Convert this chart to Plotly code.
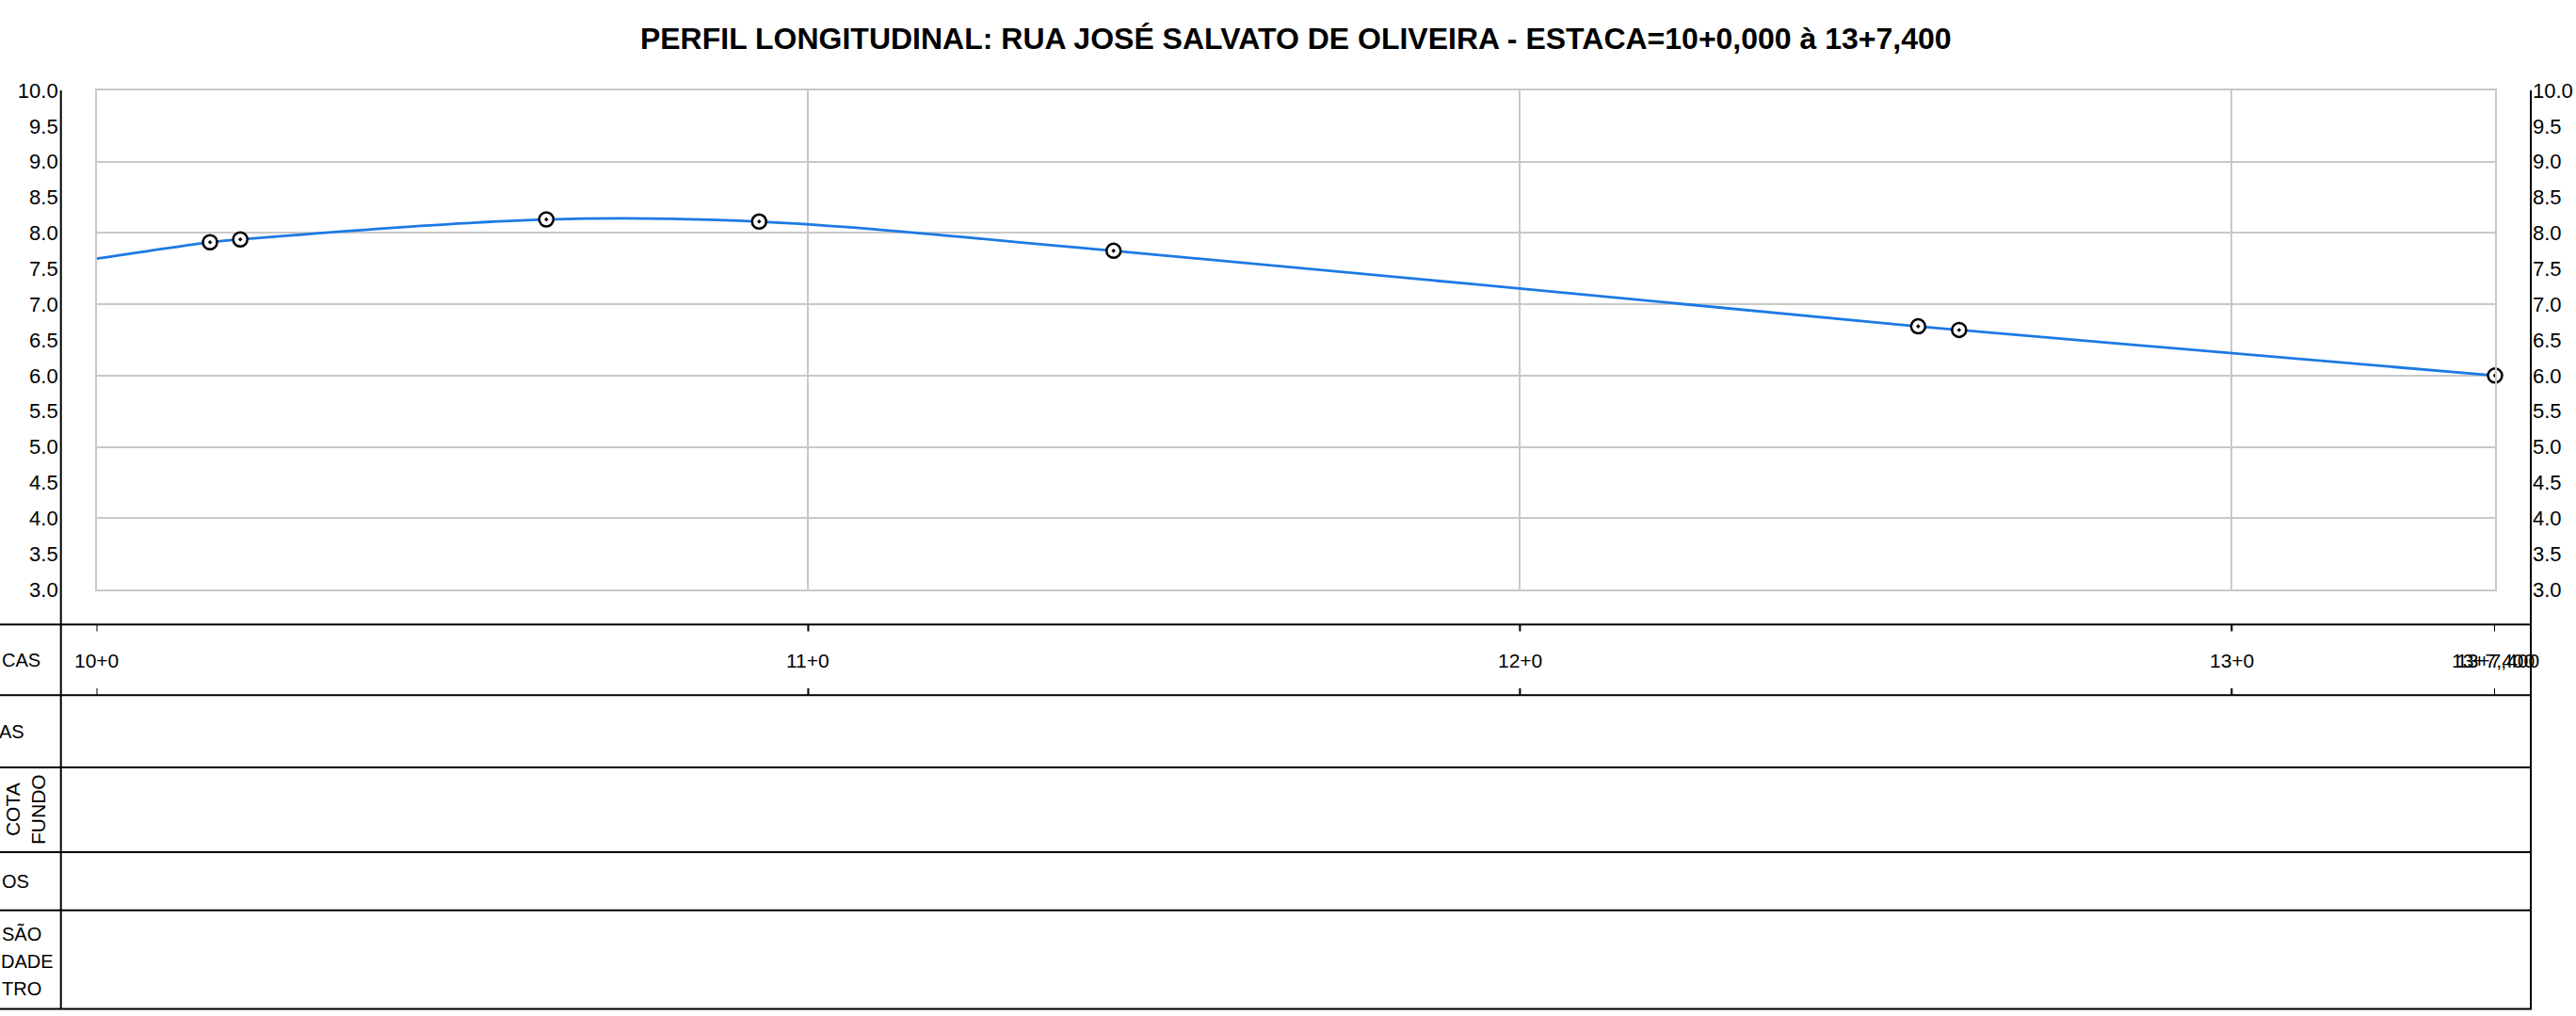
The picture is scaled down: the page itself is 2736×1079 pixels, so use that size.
import plotly.graph_objects as go

# ---------------- data ----------------
dist_m = [0.0, 3.19, 4.04, 12.64, 18.62, 28.58, 51.19, 52.34, 67.40]   # metres from 10+0
elev = [7.64, 7.87, 7.91, 8.19, 8.16, 7.75, 6.69, 6.64, 6.00]

station_pos = [0, 20, 40, 60]
station_labels = ["10+0", "11+0", "12+0", "13+0"]
end_pos = 67.4
end_label = "13+7,400"

y_ticks = [3.0, 3.5, 4.0, 4.5, 5.0, 5.5, 6.0, 6.5, 7.0, 7.5, 8.0, 8.5, 9.0, 9.5, 10.0]

row_labels = ["CAS", "AS", "COTA<br>FUNDO", "OS", "SÃO", "DADE", "TRO"]

title = "PERFIL LONGITUDINAL: RUA JOSÉ SALVATO DE OLIVEIRA - ESTACA=10+0,000 à 13+7,400"

# ---------------- layout helpers ----------------
W, H = 2736, 1079
def px(x):
    return x / W
def py(y):
    return 1 - y / H

FONT = "Liberation Sans, Arial, Helvetica, sans-serif"
GRID = "#c8c8c8"
BLUE = "#1c7ae4"

plot_left, plot_right = 102.5, 2650
plot_top, plot_bottom = 96, 626
left_axis_x, right_axis_x = 64.7, 2688

fig = go.Figure()

fig.add_trace(go.Scatter(
    x=dist_m, y=elev, mode="lines",
    line=dict(color=BLUE, width=2.8, shape="spline", smoothing=1.0),
    hoverinfo="skip", showlegend=False, xaxis="x", yaxis="y"))

fig.add_trace(go.Scatter(
    x=dist_m[1:], y=elev[1:], mode="markers",
    marker=dict(symbol="circle-dot", size=15, color="white",
                line=dict(color="black", width=2.5)),
    cliponaxis=False, hoverinfo="skip", showlegend=False, xaxis="x", yaxis="y"))

# dummy invisible traces so the side axes render
for ax in ["y2", "y3"]:
    fig.add_trace(go.Scatter(x=[dist_m[0]], y=[elev[0]], mode="markers",
                             marker=dict(opacity=0, size=1), hoverinfo="skip",
                             showlegend=False, xaxis="x", yaxis=ax))

tick_txt = [f"{v:.1f}" for v in y_ticks]
fig.update_layout(
    width=W, height=H, autosize=False,
    margin=dict(l=0, r=0, t=0, b=0, pad=0, autoexpand=False),
    paper_bgcolor="white", plot_bgcolor="white",
    font=dict(family=FONT, size=20, color="black"),
    title=dict(text="<b>" + title + "</b>", x=px((plot_left + plot_right) / 2),
               xanchor="center", xref="paper", y=py(41), yanchor="middle",
               yref="container", automargin=False,
               font=dict(family=FONT, size=32, color="black")),
    xaxis=dict(domain=[px(plot_left), px(plot_right)], range=[0, end_pos],
               tickvals=station_pos[1:], showticklabels=False, ticks="",
               showgrid=True, gridcolor=GRID, gridwidth=2, zeroline=False,
               showline=True, linecolor=GRID, linewidth=2, mirror=True,
               fixedrange=True, automargin=False),
    yaxis=dict(domain=[py(plot_bottom), py(plot_top)], range=[3, 10],
               dtick=1, tick0=3, showticklabels=False, ticks="",
               showgrid=True, gridcolor=GRID, gridwidth=2, zeroline=False,
               showline=True, linecolor=GRID, linewidth=2, mirror=True,
               fixedrange=True, automargin=False),
    yaxis2=dict(overlaying="y", anchor="free", position=px(left_axis_x), side="left",
                range=[3, 10], tickvals=y_ticks, ticktext=tick_txt,
                ticks="", showgrid=False, zeroline=False, showline=False,
                ticklabelstandoff=3,
                tickfont=dict(family=FONT, size=22, color="black"), fixedrange=True,
                automargin=False),
    yaxis3=dict(overlaying="y", anchor="free", position=px(right_axis_x), side="right",
                range=[3, 10], tickvals=y_ticks, ticktext=tick_txt,
                ticks="", showgrid=False, zeroline=False, showline=False,
                ticklabelstandoff=1,
                tickfont=dict(family=FONT, size=22, color="black"), fixedrange=True,
                automargin=False),
)

shapes = []
# vertical black frame lines
for xv in [left_axis_x, right_axis_x]:
    shapes.append(dict(type="line", xref="paper", yref="paper",
                       x0=px(xv), x1=px(xv), y0=py(plot_top), y1=py(1071.5),
                       line=dict(color="black", width=2)))
# table horizontal lines
for yv in [663.3, 738.3, 815, 905, 966.7, 1071.5]:
    shapes.append(dict(type="line", xref="paper", yref="paper",
                       x0=0, x1=px(right_axis_x + 1), y0=py(yv), y1=py(yv),
                       line=dict(color="black", width=2)))
# station ticks in the ESTACAS row
for s in station_pos + [end_pos]:
    shapes.append(dict(type="line", xref="x", yref="paper", x0=s, x1=s,
                       y0=py(663.3), y1=py(670.5), line=dict(color="black", width=2)))
    shapes.append(dict(type="line", xref="x", yref="paper", x0=s, x1=s,
                       y0=py(731), y1=py(738.3), line=dict(color="black", width=2)))
fig.update_layout(shapes=shapes)

ann = []
for s, lab in zip(station_pos, station_labels):
    ann.append(dict(x=s, xref="x", y=py(701), yref="paper", text=lab, showarrow=False,
                    xanchor="center", yanchor="middle", font=dict(size=21)))
for shift in (-2.5, 2.5):
    ann.append(dict(x=end_pos, xref="x", y=py(701), yref="paper", text=end_label,
                    showarrow=False, xanchor="center", yanchor="middle", xshift=shift,
                    font=dict(size=21)))

# row labels at the left border of the table
label_pos = [(1, 701, "left", 0, 20), (27, 777, "right", 0, 20), (27, 860, "center", -90, 21),
             (1, 936, "left", 0, 20), (45, 992, "right", 0, 20), (58, 1021, "right", 0, 20),
             (45, 1050, "right", 0, 20)]
for lab, (xv, yv, anc, ang, fs) in zip(row_labels, label_pos):
    ann.append(dict(x=px(xv), xref="paper", y=py(yv), yref="paper", text=lab,
                    showarrow=False, xanchor=anc, yanchor="middle", textangle=ang,
                    align="center", borderpad=0, font=dict(size=fs)))
fig.update_layout(annotations=ann)

fig.write_html("out.html", config={"displayModeBar": False},
               post_script="document.body.style.margin='0';document.body.style.overflow='hidden';")
